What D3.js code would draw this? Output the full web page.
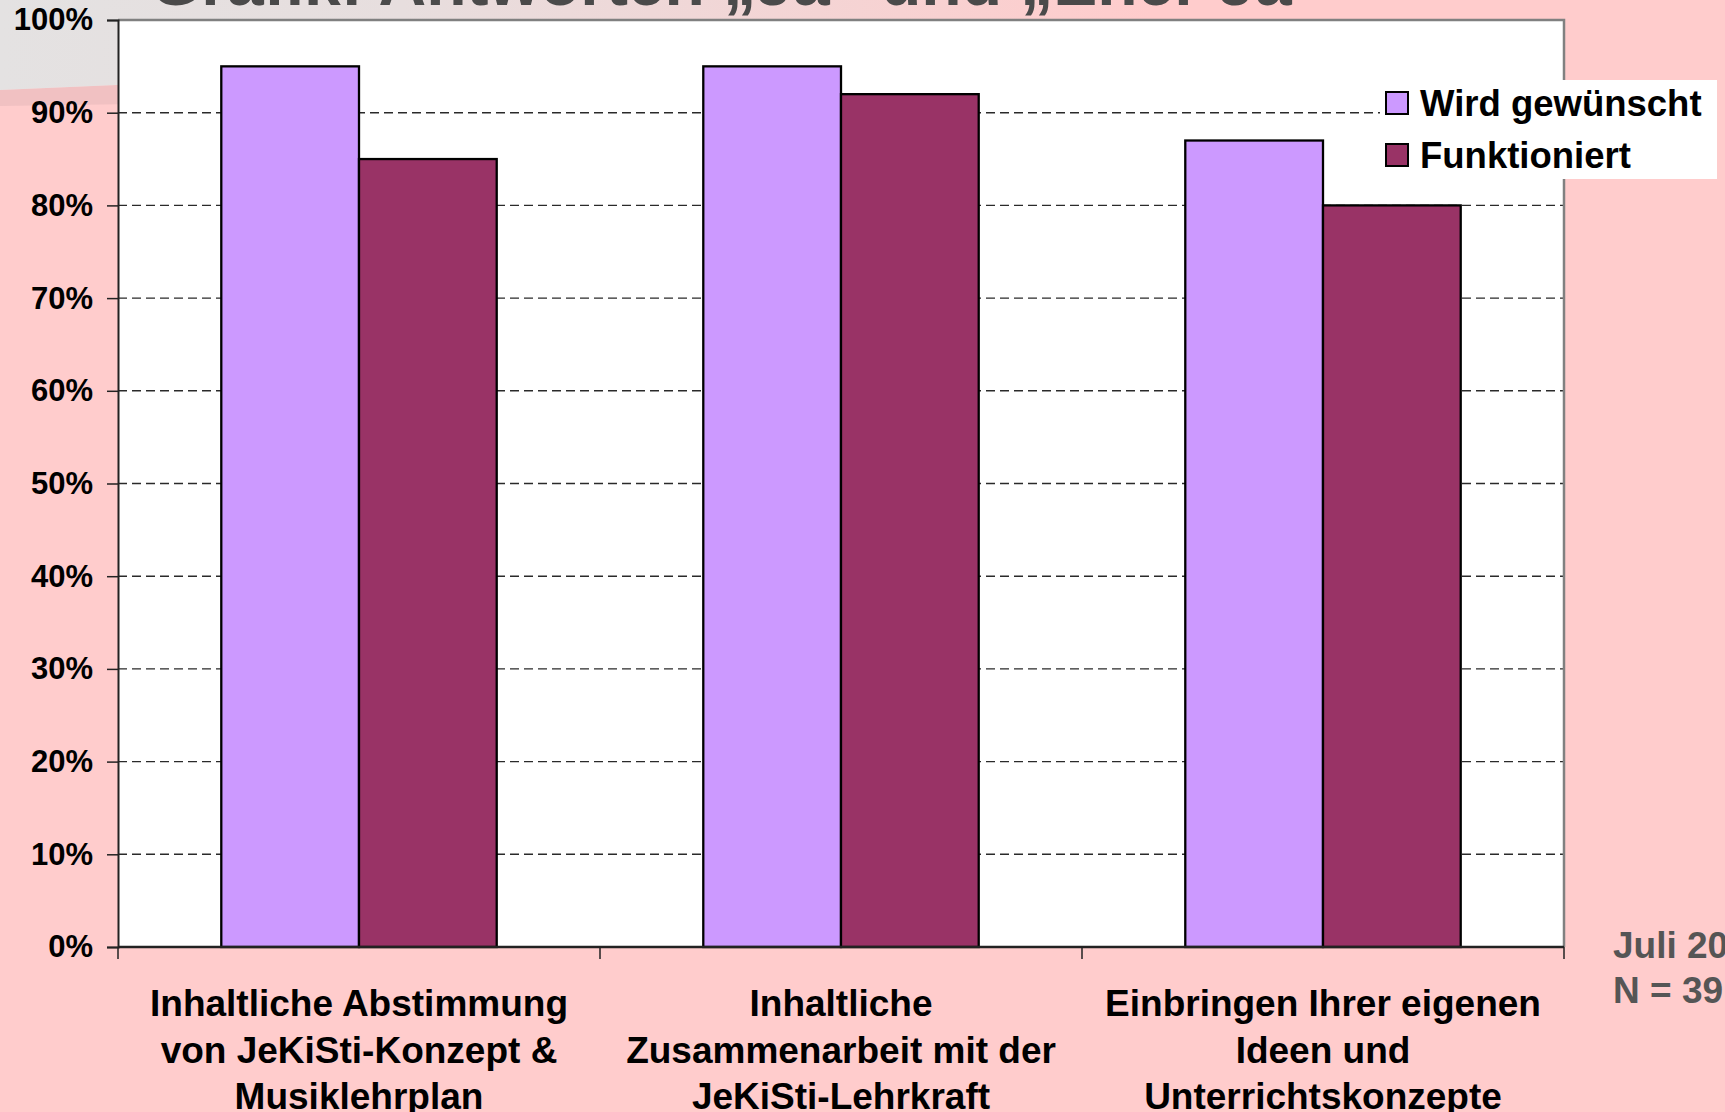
<!DOCTYPE html>
<html>
<head>
<meta charset="utf-8">
<script src="https://cdn.jsdelivr.net/npm/d3@7"></script>
<style>
  html, body { margin: 0; padding: 0; background: #FFCCCC; }
  svg { display: block; }
  text { font-family: "Liberation Sans", Arial, sans-serif; font-weight: bold; }
</style>
</head>
<body>
<svg id="chart" width="1725" height="1112"></svg>
<script>
// ---- data ----
const categories = [
  "Inhaltliche Abstimmung\nvon JeKiSti-Konzept &\nMusiklehrplan",
  "Inhaltliche\nZusammenarbeit mit der\nJeKiSti-Lehrkraft",
  "Einbringen Ihrer eigenen\nIdeen und\nUnterrichtskonzepte"
];
const seriesNames = ["Wird gewünscht", "Funktioniert"];
const wirdGewuenscht = [0.95, 0.95, 0.87];
const funktioniert = [0.85, 0.92, 0.80];
const yTickValues = [0, 0.1, 0.2, 0.3, 0.4, 0.5, 0.6, 0.7, 0.8, 0.9, 1.0];
const titleText = "Grafik: Antworten „Ja“ und „Eher Ja“";
const noteLines = ["Juli 2010", "N = 39"];

const seriesValues = [wirdGewuenscht, funktioniert];
const colors = ["#CC99FF", "#993366"];

const W = 1725, H = 1112;
const plot = { left: 118, right: 1564, top: 20, bottom: 947 };

const svg = d3.select("#chart");

// ---- background decoration ----
const defs = svg.append("defs");
const grad = defs.append("linearGradient").attr("id", "hdr")
  .attr("gradientUnits", "userSpaceOnUse")
  .attr("x1", 0).attr("x2", 1150).attr("y1", 0).attr("y2", 0);
grad.append("stop").attr("offset", "0").attr("stop-color", "#E4E2E2");
grad.append("stop").attr("offset", "0.35").attr("stop-color", "#E7DEDE");
grad.append("stop").attr("offset", "1").attr("stop-color", "#FFCCCC");

svg.append("rect").attr("width", W).attr("height", H).attr("fill", "#FFCCCC");
svg.append("path")
  .attr("d", "M0,90 L400,73 L400,100 L0,106 Z")
  .attr("fill", "#F1C1C2");
svg.append("path")
  .attr("d", "M0,0 L1725,0 L1725,20 L400,73 L0,90 Z")
  .attr("fill", "url(#hdr)");

svg.append("text")
  .attr("x", 150).attr("y", 5)
  .attr("fill", "#4A4A4A")
  .style("font-size", "66px")
  .text(titleText);

// ---- scales ----
const x0 = d3.scaleBand().domain(categories).range([plot.left, plot.right]).padding(0);
const groupW = x0.bandwidth() * 2 / 3.5;
const x1 = d3.scaleBand().domain(seriesNames)
  .range([x0.bandwidth() * 0.75 / 3.5, x0.bandwidth() * 0.75 / 3.5 + groupW]).padding(0);
const y = d3.scaleLinear().domain([0, 1]).range([plot.bottom, plot.top]);

// plot area
svg.append("rect")
  .attr("x", plot.left).attr("y", plot.top)
  .attr("width", plot.right - plot.left).attr("height", plot.bottom - plot.top)
  .attr("fill", "#FFFFFF");

// gridlines
svg.append("g").selectAll("line")
  .data(yTickValues.filter(v => v > 0 && v < 1))
  .join("line")
  .attr("x1", plot.left).attr("x2", plot.right)
  .attr("y1", d => y(d)).attr("y2", d => y(d))
  .attr("stroke", "#2a2a2a").attr("stroke-width", 1.4)
  .attr("stroke-dasharray", "9,5");

// top & right border
svg.append("path")
  .attr("d", `M${plot.left},${plot.top} H${plot.right} V${plot.bottom}`)
  .attr("fill", "none").attr("stroke", "#808080").attr("stroke-width", 2.5);

// bars
const groups = svg.append("g").selectAll("g")
  .data(categories)
  .join("g")
  .attr("transform", d => `translate(${x0(d)},0)`);
groups.selectAll("rect")
  .data((d, i) => seriesNames.map((s, j) => ({ s, v: seriesValues[j][i], c: colors[j] })))
  .join("rect")
  .attr("x", d => x1(d.s))
  .attr("width", x1.bandwidth())
  .attr("y", d => y(d.v))
  .attr("height", d => y(0) - y(d.v))
  .attr("fill", d => d.c)
  .attr("stroke", "#000000").attr("stroke-width", 2.3);

// y axis
const yAxis = svg.append("g")
  .attr("transform", `translate(${plot.left},0)`)
  .call(d3.axisLeft(y).tickValues(yTickValues).tickFormat(d3.format(".0%")).tickSize(11).tickPadding(14));
yAxis.select(".domain").attr("stroke", "#222").attr("stroke-width", 2);
yAxis.selectAll(".tick line").attr("stroke", "#222").attr("stroke-width", 1.5);
yAxis.selectAll(".tick text")
  .attr("fill", "#000")
  .style("font-size", "31px")
  .style("font-family", "'Liberation Sans', Arial, sans-serif")
  .style("font-weight", "bold");

// x axis line and boundary ticks
svg.append("line")
  .attr("x1", plot.left).attr("x2", plot.right)
  .attr("y1", y(0)).attr("y2", y(0))
  .attr("stroke", "#222").attr("stroke-width", 2.5);
const bounds = categories.map(c => x0(c)).concat([x0.range()[1]]);
svg.append("g").selectAll("line")
  .data(bounds).join("line")
  .attr("x1", d => d).attr("x2", d => d)
  .attr("y1", y(0)).attr("y2", y(0) + 12)
  .attr("stroke", "#222").attr("stroke-width", 1.5);

// category labels via band axis
const xAxis = svg.append("g")
  .attr("transform", `translate(0,${plot.bottom})`)
  .call(d3.axisBottom(x0).tickSize(0).tickFormat(""));
xAxis.select(".domain").remove();
xAxis.selectAll(".tick").each(function(d) {
  const t = d3.select(this).append("text")
    .attr("text-anchor", "middle")
    .attr("fill", "#000")
    .style("font-size", "37px");
  d.split("\n").forEach((line, i) => {
    t.append("tspan").attr("x", 0).attr("y", 69 + i * 46.5).text(line);
  });
});

// legend
const lg = svg.append("g").attr("transform", "translate(1380,80)");
lg.append("rect").attr("x", 0).attr("y", 0).attr("width", 337).attr("height", 99).attr("fill", "#FFFFFF");
seriesNames.forEach((s, i) => {
  lg.append("rect")
    .attr("x", 6).attr("y", 12 + i * 52).attr("width", 22).attr("height", 22)
    .attr("fill", colors[i]).attr("stroke", "#000").attr("stroke-width", 2);
  lg.append("text")
    .attr("x", 40).attr("y", 36 + i * 52)
    .attr("fill", "#000")
    .style("font-size", "36.5px")
    .text(s);
});

// note at right
const note = svg.append("text").attr("fill", "#555555").style("font-size", "37px");
noteLines.forEach((l, i) => {
  note.append("tspan").attr("x", 1613).attr("y", 958 + i * 45).text(l);
});
</script>
</body>
</html>
